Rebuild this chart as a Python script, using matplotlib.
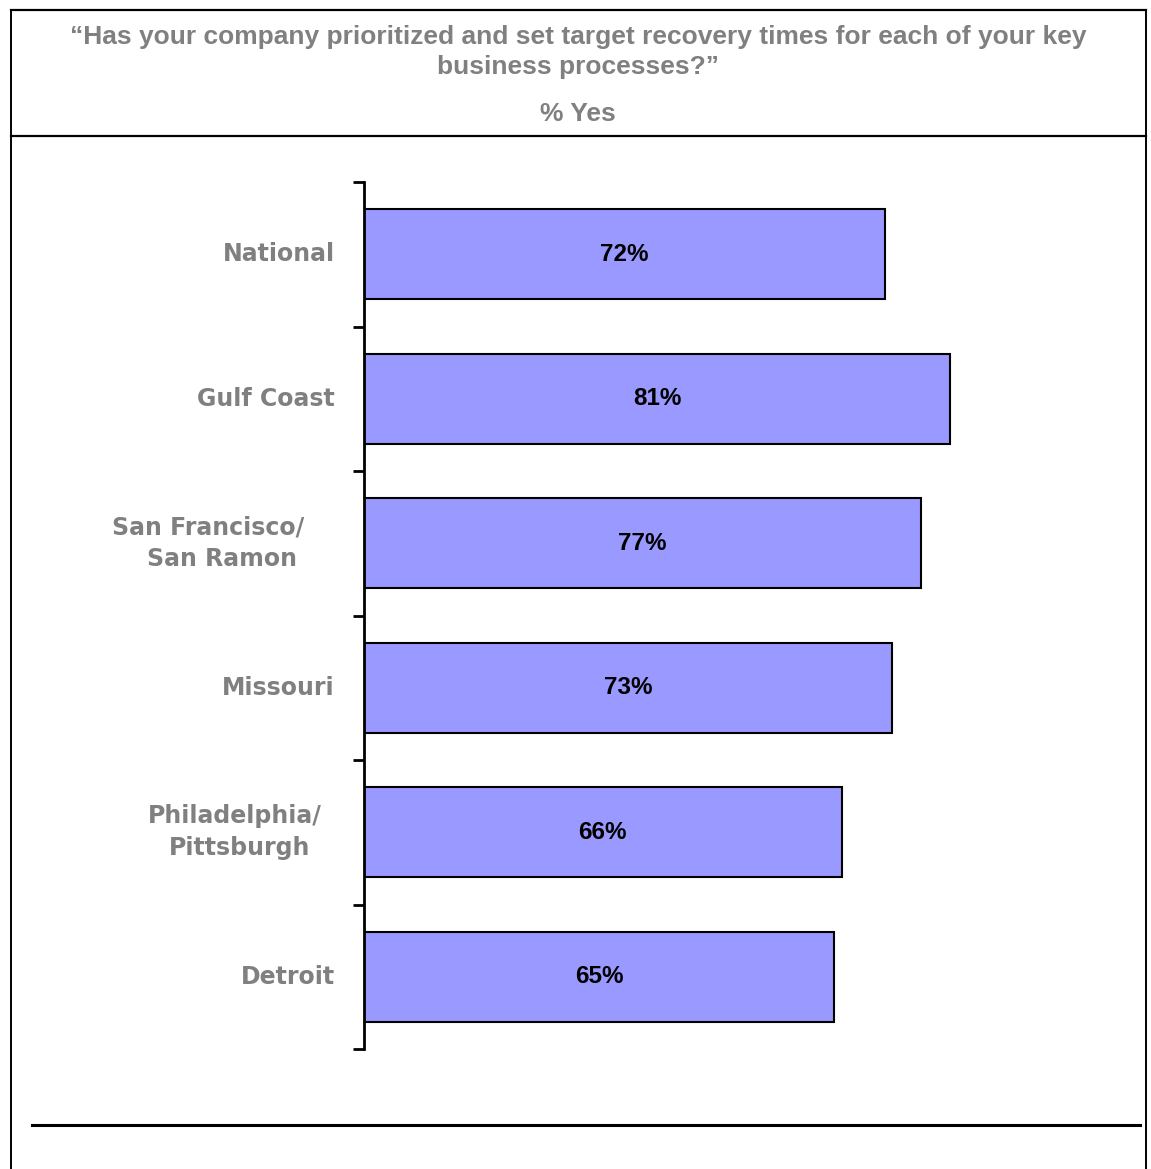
import matplotlib
matplotlib.use("Agg")
import matplotlib.pyplot as plt
from matplotlib.lines import Line2D
from matplotlib.transforms import blended_transform_factory, offset_copy

# Survey results: share of companies answering "Yes"
regions = ["National", "Gulf Coast", "San Francisco/\nSan Ramon", "Missouri",
           "Philadelphia/\nPittsburgh", "Detroit"]
pct_yes = [72, 81, 77, 73, 66, 65]
value_labels = ["72%", "81%", "77%", "73%", "66%", "65%"]

title = "\u201cHas your company prioritized and set target recovery times for each of your key\nbusiness processes?\u201d"
subtitle = "% Yes"

W, H = 1151, 1169
fig = plt.figure(figsize=(W / 100, H / 100), dpi=100)
fig.patch.set_facecolor("white")

def fx(px):
    return px / W

def fy(py):
    return 1 - py / H

# Outer frame and header divider
for (x0, y0, x1, y1, lw) in [(11, 10, 1146, 10, 1.6), (11, 10, 11, H, 1.4),
                             (1146, 10, 1146, H, 1.4), (11, 136, 1146, 136, 1.6),
                             (32, 1125, 1140, 1125, 2.2)]:
    fig.add_artist(Line2D([fx(x0), fx(x1)], [fy(y0), fy(y1)], color="black",
                          lw=lw, transform=fig.transFigure))

gray = "#808080"
fig.text(fx(578), fy(52), title, ha="center", va="center", color=gray,
         fontsize=19, fontweight="bold", family="Liberation Sans",
         linespacing=1.3)
fig.text(fx(578), fy(114), subtitle, ha="center", va="center", color=gray,
         fontsize=19, fontweight="bold", family="Liberation Sans")

# Plot area
ax_left, ax_right = 364, 364 + 100 * 7.235
ax_top, ax_bot = 182, 1049
ax = fig.add_axes([fx(ax_left), fy(ax_bot), fx(ax_right - ax_left),
                   (ax_bot - ax_top) / H])
ax.set_facecolor("none")

n = len(regions)
ypos = [i + 0.5 for i in range(n)]
ax.barh(ypos, pct_yes, height=0.62, color="#9999FF", edgecolor="black",
        linewidth=1.5, zorder=2)
ax.set_xlim(0, 100)
ax.set_ylim(n, 0)

for y, v, lab in zip(ypos, pct_yes, value_labels):
    ax.text(v / 2, y, lab, ha="center", va="center", fontsize=17.5,
            fontweight="bold", family="Liberation Sans", color="black")

for s in ["top", "right", "bottom"]:
    ax.spines[s].set_visible(False)
ax.spines["left"].set_linewidth(2)
ax.spines["left"].set_zorder(3)
ax.set_xticks([])
ax.set_yticks(range(n + 1))
ax.set_yticklabels([])
ax.tick_params(axis="y", length=8, width=2, direction="out")

# Category labels to the left of the axis; wrapped names are drawn line by line
trans = blended_transform_factory(ax.transAxes, ax.transData)
single_right = 335                      # right edge of one-line labels (px)
wrapped_centres = {2: (208, 222), 4: (235, 240)}  # line centres (px)
line_gap = 32                           # px between wrapped lines
label_style = dict(va="center", color=gray, fontsize=17, fontweight="bold",
                   family="DejaVu Sans")

def axfrac(px):
    return (px - ax_left) / (ax_right - ax_left)

for i, (y, name) in enumerate(zip(ypos, regions)):
    lines = name.split("\n")
    if len(lines) == 1:
        ax.text(axfrac(single_right), y, name, transform=trans, ha="right",
                **label_style)
    else:
        centres = wrapped_centres[i]
        for k, (line, cx) in enumerate(zip(lines, centres)):
            dy = (k - (len(lines) - 1) / 2) * line_gap
            t = offset_copy(trans, fig=fig, x=0, y=-dy * 72 / fig.dpi,
                            units="points")
            ax.text(axfrac(cx), y, line, transform=t, ha="center",
                    **label_style)

fig.savefig("out.png", dpi=100, facecolor="white")
